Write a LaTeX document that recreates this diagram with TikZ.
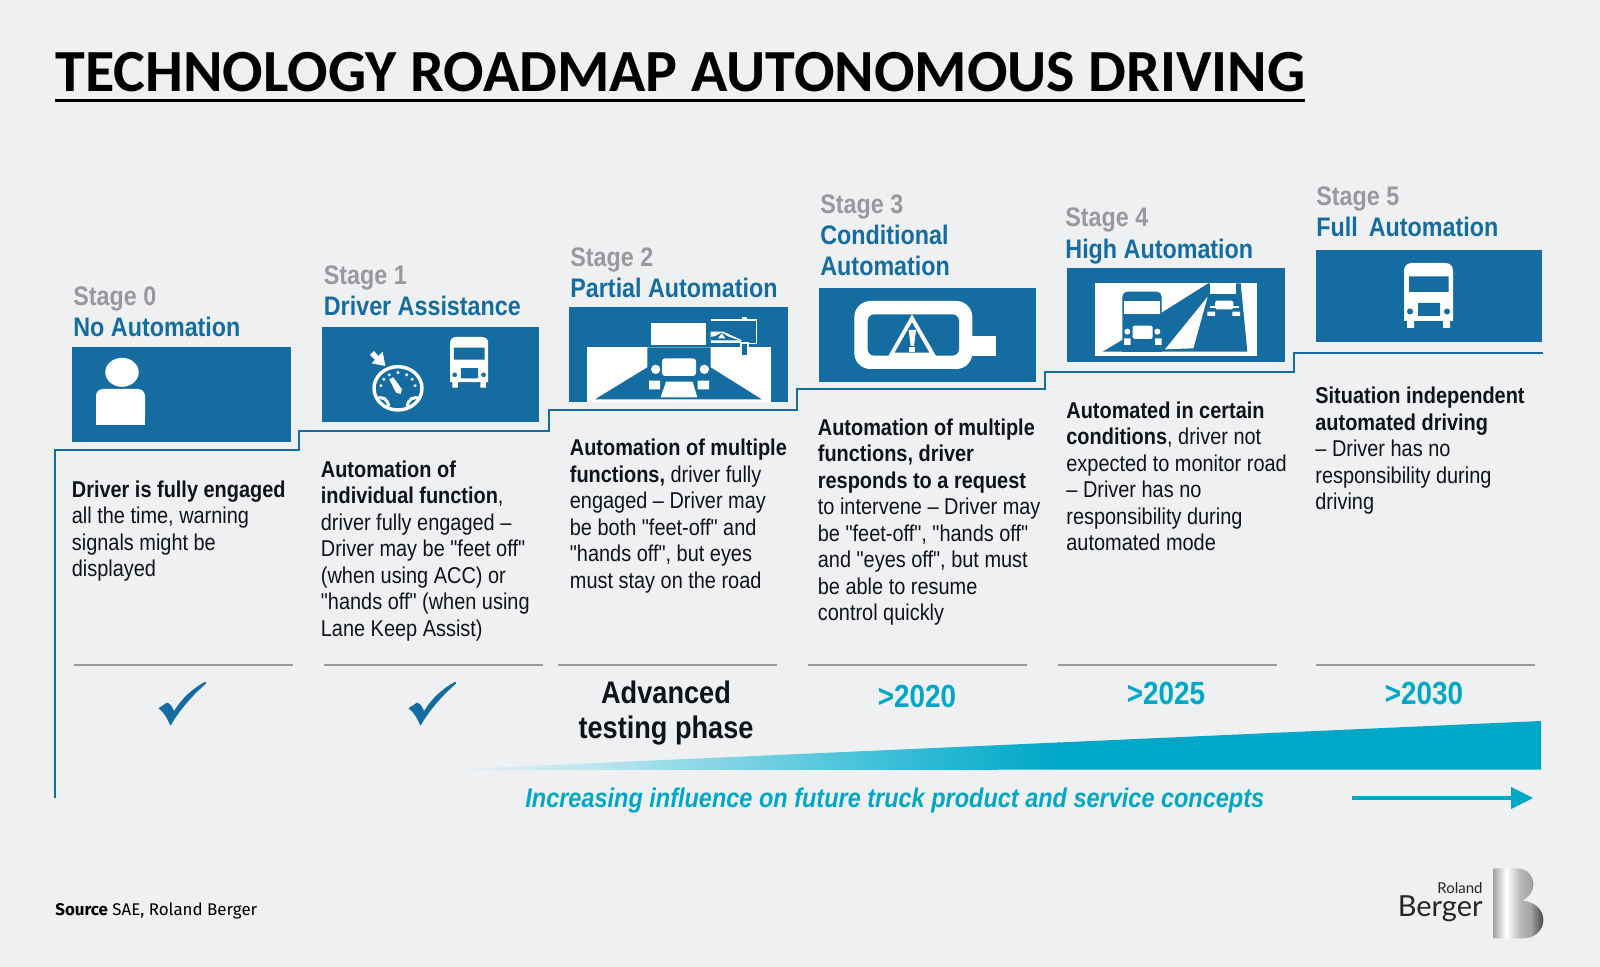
\documentclass[tikz,border=0pt]{standalone}
\usepackage{fontspec}
\setmainfont{Liberation Sans}
\newfontfamily\narrow[FakeStretch=0.87]{Liberation Sans}
\newfontfamily\titlefont{Carlito}
\newfontfamily\srcfont{Fira Sans}
\newfontfamily\logofont{Lato}
\definecolor{bgc}{HTML}{EFF0F2}
\definecolor{blu}{HTML}{156CA0}
\definecolor{gry}{HTML}{98999D}
\definecolor{cya}{HTML}{00A7C7}
\definecolor{ink}{HTML}{101418}
\definecolor{w1}{HTML}{B8E5EE}
\definecolor{w2}{HTML}{8CD7E6}
\definecolor{w3}{HTML}{27B8D4}
\pgfdeclarehorizontalshading{logoB}{100bp}{color(0bp)=(black!35);color(25bp)=(black!35);color(38bp)=(white);color(52bp)=(black!28);color(62bp)=(black!35);color(75bp)=(black!72);color(100bp)=(black!72)}
\pgfdeclarehorizontalshading{wedgeG}{100bp}{color(0bp)=(bgc);color(25bp)=(bgc);color(37.9bp)=(w1);color(46bp)=(w2);color(65.3bp)=(w3);color(75bp)=(cya);color(100bp)=(cya)}
\tikzset{
 x=0.5pt,y=-0.5pt,
 box/.style={fill=blu},
 stagelbl/.style={anchor=base west,inner sep=0,text=gry,font=\narrow\fontsize{13.4}{16}\selectfont\bfseries},
 namelbl/.style={anchor=base west,inner sep=0,text=blu,font=\narrow\fontsize{13.4}{16}\selectfont\bfseries},
 body/.style={anchor=north west,inner sep=0,align=left,text=ink,font=\narrow\fontsize{11.45}{13.25}\selectfont},
 rule/.style={gry,line width=1.2pt},
 year/.style={anchor=base,inner sep=0,text=cya,font=\narrow\fontsize{16}{18}\selectfont\bfseries},
 adv/.style={anchor=north,inner sep=0,align=center,text=ink,font=\narrow\fontsize{15.6}{17.5}\selectfont\bfseries},
}
\newcommand{\truckicon}[3]{% x,y,scale ; body white, details in blue
 \begin{scope}[shift={(#1,#2)},scale=#3]
  \fill[white] (0,58) -- (0,8) .. controls (0,3) and (3,0) .. (8,0) -- (41,0) .. controls (46,0) and (49,3) .. (49,8) -- (49,58) -- cycle;
  \fill[white] (3,57) rectangle (10,65) (39,57) rectangle (46,65);
  \fill[blu] (5,13.5) rectangle (44.5,29) (14,40) rectangle (36,53);
  \fill[blu] (6,48.5) circle[radius=3] (43,48.5) circle[radius=3];
 \end{scope}}
\newcommand{\checkicon}[1]{%
 \begin{scope}[shift={(#1,650)},xscale=1/2.24,yscale=1/3]
  \fill[blu] (243,175) -- (262,158) .. controls (270,160) and (273,170) .. (278,183) .. controls (295,145) and (320,115) .. (348,95) -- (350,100) .. controls (320,135) and (290,180) .. (270,227) .. controls (262,205) and (255,185) .. cycle;
 \end{scope}}
\begin{document}
\begin{tikzpicture}
\useasboundingbox (0,0) rectangle (1600,967);
\fill[bgc] (0,0) rectangle (1600,967);
% title
\node[anchor=base west,inner sep=0,text=black] (title) at (55,91.5) {\resizebox{625pt}{19.6pt}{\titlefont\bfseries TECHNOLOGY ROADMAP AUTONOMOUS DRIVING}};
\draw[black,line width=1.25pt] (55,100.5) -- (1305,100.5);
% step line
\draw[blu,line width=1.3pt] (55,798) -- (55,450) -- (299,450) -- (299,431) -- (549,431) -- (549,410) -- (797,410) -- (797,389) -- (1045,389) -- (1045,372) -- (1294,372) -- (1294,353) -- (1543,353);
% boxes
\fill[box] (72,347) rectangle (291,442);
\fill[box] (322,327) rectangle (539,422);
\fill[box] (569,307) rectangle (788,402);
\fill[box] (819,288) rectangle (1036,382);
\fill[box] (1067,268) rectangle (1285,362);
\fill[box] (1316,250) rectangle (1542,342);
% headings
\node[stagelbl] (s0) at (73,306) {Stage 0};
\node[namelbl] (n0) at (73,337) {No Automation};
\node[stagelbl] (s1) at (323.5,285) {Stage 1};
\node[namelbl] (n1) at (323.5,316) {Driver Assistance};
\node[stagelbl] (s2) at (570,267) {Stage 2};
\node[namelbl] (n2) at (570,298) {Partial Automation};
\node[stagelbl] (s3) at (820,214) {Stage 3};
\node[namelbl] (n3a) at (820,245) {Conditional};
\node[namelbl] (n3b) at (820,276) {Automation};
\node[stagelbl] (s4) at (1065,227) {Stage 4};
\node[namelbl] (n4) at (1065,259) {High Automation};
\node[stagelbl] (s5) at (1316,206) {Stage 5};
\node[namelbl] (n5) at (1316,237) {Full\, Automation};
% bodies
\node[body] (b0) at (71.5,478.5) {\strut\textbf{Driver is fully engaged}\\all the time, warning\\signals might be\\displayed};
\node[body] (b1) at (320.5,458.5) {\strut\textbf{Automation of}\\\textbf{individual function},\\driver fully engaged –\\Driver may be "feet off"\\(when using ACC) or\\"hands off" (when using\\Lane Keep Assist)};
\node[body] (b2) at (569.5,437) {\strut\textbf{Automation of multiple}\\\textbf{functions,} driver fully\\engaged – Driver may\\be both "feet-off" and\\"hands off", but eyes\\must stay on the road};
\node[body] (b3) at (817.5,416.5) {\strut\textbf{Automation of multiple}\\\textbf{functions, driver}\\\textbf{responds to a request}\\to intervene – Driver may\\be "feet-off", "hands off"\\and "eyes off", but must\\be able to resume\\control quickly};
\node[body] (b4) at (1066,399.5) {\strut\textbf{Automated in certain}\\\textbf{conditions}, driver not\\expected to monitor road\\– Driver has no\\responsibility during\\automated mode};
\node[body] (b5) at (1315,385) {\strut\textbf{Situation independent}\\\textbf{automated driving}\\– Driver has no\\responsibility during\\driving};
% rules
\draw[rule] (74,665) -- (293,665);
\draw[rule] (324,665) -- (543,665);
\draw[rule] (558,665) -- (777,665);
\draw[rule] (808,665) -- (1027,665);
\draw[rule] (1058,665) -- (1277,665);
\draw[rule] (1316,665) -- (1535,665);
% checks
\checkicon{50}
\checkicon{300}
% years
\node[adv] (adv) at (666,680) {Advanced\\testing phase};
\node[year] (y1) at (917,707) {>2020};
\node[year] (y2) at (1166,704) {>2025};
\node[year] (y3) at (1424,704) {>2030};
% wedge
\begin{scope}
 \clip (440,770) -- (1541,721) -- (1541,769.5) -- cycle;
 \shade[shading=wedgeG] (440,715) rectangle (1060,775);
 \fill[cya] (1059,715) rectangle (1542,775);
\end{scope}
\node[anchor=base west,inner sep=0,text=cya,font=\narrow\fontsize{13.5}{16}\selectfont\bfseries\itshape] (inf) at (525,807) {Increasing influence on future truck product and service concepts};
\coordinate (a1) at (1352,798);
\coordinate (a2) at (1512,798);
\draw[cya,line width=2pt] (a1) -- (a2);
\fill[cya] (1511,787) -- (1533,798) -- (1511,809) -- cycle;
% source
\node[anchor=base west,inner sep=0,text=black,font=\srcfont\fontsize{8.45}{10}\selectfont] (src) at (55,915) {\textbf{Source} SAE, Roland Berger};
% logo
\node[anchor=base east,inner sep=0,text=black!85,font=\logofont\fontsize{7.5}{9}\selectfont] (lr) at (1483,893) {Roland};
\node[anchor=base east,inner sep=0,text=black!85,font=\logofont\fontsize{14.5}{16}\selectfont] (lb) at (1483,916) {Berger};
\begin{scope}[shift={(1350,780)},scale=1/3]
 \shade[shading=logoB] (430,265) -- (500,265) .. controls (535,265) and (550,290) .. (550,315) .. controls (550,335) and (535,352) .. (518,362) .. controls (555,365) and (580,390) .. (580,420) .. controls (580,450) and (555,475) .. (520,475) -- (430,475) -- cycle;
\end{scope}
% icon 0
\fill[white] (122,372.3) ellipse[x radius=16.7,y radius=14.5];
\fill[white,rounded corners=3.5pt] (96,425) -- (96,389) -- (145,389) -- (145,425) -- cycle;
\fill[white] (96,415) rectangle (145,425);
% icon 1 gauge
\begin{scope}[shift={(50,240)},scale=1/3]
 \draw[white,line width=1.7pt] (1044,445) ellipse[x radius=72,y radius=65];
 \fill[white] (1006,378) -- (965,370) -- (975,360) -- (960,345) -- (972,333) -- (985,348) -- (998,335) -- cycle;
 \fill[white] (1018,418) -- (1030,412) -- (1056,448) -- (1052,462) -- (1038,458) -- cycle;
 \foreach \a in {170,145,120,90,60,35,10} \fill[white] ({1044+52*cos(\a)},{445-47*sin(\a)}) circle[radius=5];
 \draw[white,line width=1.5pt] (978,478) .. controls (995,465) and (1015,478) .. (1016,500);
 \draw[white,line width=1.5pt] (1110,478) .. controls (1093,465) and (1073,478) .. (1072,500);
\end{scope}
\truckicon{450}{337}{0.78}
% icon 2
\begin{scope}[shift={(560,270)},scale=1/3]
 \fill[white] (80,232) rectangle (632,397);
 \fill[blu] (262,232) -- (452,232) -- (452,292) -- (605,388) -- (105,388) -- (262,292) -- cycle;
 \fill[white] (274,158) rectangle (438,225);
 \fill[white,rounded corners=1.5pt] (306,265) rectangle (408,318);
 \fill[white] (287,298) circle[radius=14] (433,298) circle[radius=14];
 \fill[white] (267,332) rectangle (300,358) (413,332) rectangle (447,358);
 \fill[white] (318,335) -- (398,335) -- (412,382) -- (302,382) -- cycle;
\end{scope}
\begin{scope}[shift={(690,310)},scale=1/3]
 \draw[white,line width=.8pt] (62,30) -- (199,30) -- (199,100) -- (152,100);
 \fill[white] (62,65) -- (100,65) -- (158,92) -- (62,92) -- cycle;
 \fill[blu] (62,80) -- (75,79) -- (95,68) -- (115,80) -- (145,90) -- (62,90) -- cycle;
 \fill[white] (95,70) -- (84,85) -- (106,85) -- cycle;
 \fill[white] (62,93) rectangle (152,98);
 \fill[white] (156,20) rectangle (172,29);
 \fill[white] (151,96) rectangle (178,140);
 \fill[blu] (157,101) rectangle (172,136);
\end{scope}
% icon 3
\begin{scope}[shift={(560,270)},scale=1/3]
 \fill[white] (1200,198) rectangle (1308,258);
 \fill[white,rounded corners=8pt] (883,93) rectangle (1237,297);
 \fill[blu,rounded corners=3.3pt] (923,133) rectangle (1197,257);
 \fill[white] (1056,133) -- (1128,258) -- (985,258) -- cycle;
 \fill[blu] (1056,157) -- (1108,248) -- (1004,248) -- cycle;
 \fill[white] (1046,180) -- (1068,180) -- (1062,228) -- (1052,228) -- cycle;
 \fill[white] (1048,232) rectangle (1066,246);
\end{scope}
% icon 4
\begin{scope}[shift={(1050,240)},scale=1/3]
 \fill[white] (136,130) rectangle (620,348);
 \fill[blu] (475,130) -- (572,130) -- (592,335) -- (158,335) -- (220,298) -- (335,218) -- cycle;
 \fill[white] (473,170) -- (430,325) -- (345,328) -- cycle;
 \fill[white] (481,130) rectangle (557,162);
 \fill[white,rounded corners=.8pt] (495,182) rectangle (550,208);
 \fill[white] (480,197) rectangle (568,203);
 \fill[white] (472,215) rectangle (495,228) (547,215) rectangle (570,228);
 \fill[blu,rounded corners=2.5pt] (217,155) rectangle (335,320);
 \fill[blu] (217,300) rectangle (335,335);
 \fill[white] (222,183) rectangle (330,222);
 \fill[white,rounded corners=.8pt] (248,257) rectangle (308,297);
 \fill[white] (232,275) circle[radius=9] (322,275) circle[radius=9];
 \fill[white] (222,295) rectangle (242,315) (315,295) rectangle (335,315);
\end{scope}
\truckicon{1404}{263}{1}
\end{tikzpicture}
\end{document}
